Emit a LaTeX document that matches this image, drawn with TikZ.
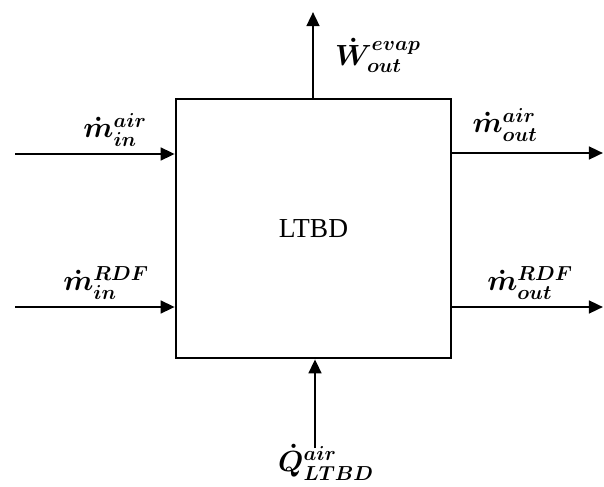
\documentclass[tikz,border=0pt]{standalone}
\usepackage{amsmath}
\usepackage{fontspec}
\setmainfont{Liberation Serif}
\usetikzlibrary{arrows.meta,positioning}

\begin{document}
\begin{tikzpicture}[
        x=0.025cm,y=-0.025cm,
        flow/.style={-{Triangle[length=10pt,width=9pt]},line width=1.8pt,draw=black},
        lbl/.style={font=\fontsize{20}{24}\selectfont\boldmath,inner sep=0pt}
      ]
      \useasboundingbox (0,0) rectangle (604,486);
      \node[draw,line width=1.8pt,minimum width=6.875cm,minimum height=6.475cm,
        font=\fontsize{19.5}{23}\selectfont] (ltbd) at (313.5,228.5) {LTBD};

      % free ends of the connectors
      \coordinate (airin) at (15,154);
      \coordinate (rdfin) at (15,307);
      \coordinate (airout) at (603,153);
      \coordinate (rdfout) at (603,307);
      \coordinate (evap) at (313,12);
      \coordinate (heat) at (315,448);

      \draw[flow] (airin) -- (airin -| ltbd.west);
      \draw[flow] (rdfin) -- (rdfin -| ltbd.west);
      \draw[flow] (airout -| ltbd.east) -- (airout);
      \draw[flow] (rdfout -| ltbd.east) -- (rdfout);
      \draw[flow] (evap |- ltbd.north) -- (evap);
      \draw[flow] (heat) -- (heat |- ltbd.south);

      \node[lbl] (airinlbl) at (115,130) {$\dot{m}^{air}_{in}$};
      \node[lbl] (rdfinlbl) at (106,283) {$\dot{m}^{RDF}_{in}$};
      \node[lbl] (airoutlbl) at (505,125) {$\dot{m}^{air}_{out}$};
      \node[lbl] (rdfoutlbl) at (530,283) {$\dot{m}^{RDF}_{out}$};
      \node[lbl] (evaplbl) at (378,55) {$\dot{W}^{evap}_{out}$};
      \node[lbl] (heatlbl) at (326,462) {$\dot{Q}^{air}_{LTBD}$};
    \end{tikzpicture}
\end{document}
